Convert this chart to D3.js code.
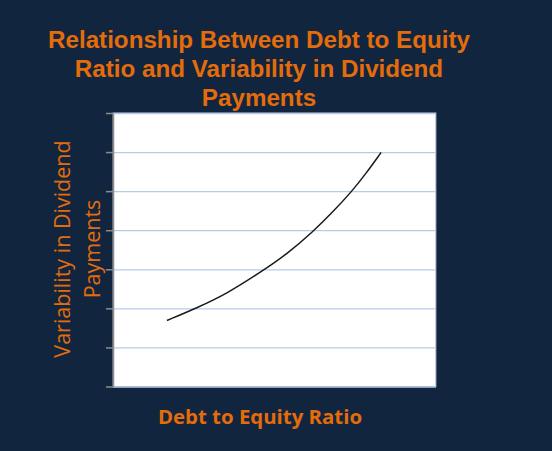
<!DOCTYPE html>
<html>
<head>
<meta charset="utf-8">
<script src="https://cdn.jsdelivr.net/npm/d3@7"></script>
<style>
  html, body { margin: 0; padding: 0; background: #12253f; }
  svg { display: block; }
</style>
</head>
<body>
<div id="chart"></div>
<script>
// values (x: 0..10, y: 0..7 gridline units)
const ratio = [1.67, 2.59, 3.52, 4.65, 5.37, 6.19, 6.81, 7.38, 7.84, 8.30];
const variability = [1.69, 2.01, 2.37, 2.97, 3.38, 3.96, 4.47, 4.98, 5.46, 5.99];
const yTicks = [0, 1, 2, 3, 4, 5, 6, 7];
const titleLines = [
  'Relationship Between Debt to Equity',
  'Ratio and Variability in Dividend',
  'Payments',
];
const yTitleLines = ['Variability in Dividend', 'Payments'];
const xTitle = 'Debt to Equity Ratio';

const width = 552;
const height = 451;
const margin = { top: 113, right: 116, bottom: 64.5, left: 113 };
const orange = '#e46c0a';

const svg = d3
  .select('#chart')
  .append('svg')
  .attr('width', width)
  .attr('height', height);

svg.append('rect').attr('width', width).attr('height', height).attr('fill', '#12253f');

const xScale = d3
  .scaleLinear()
  .domain([0, 10])
  .range([margin.left, width - margin.right]);

const yScale = d3
  .scaleLinear()
  .domain([0, 7])
  .range([height - margin.bottom, margin.top]);

// plot area
svg
  .append('rect')
  .attr('x', xScale(0))
  .attr('y', yScale(7))
  .attr('width', xScale(10) - xScale(0))
  .attr('height', yScale(0) - yScale(7))
  .attr('fill', '#ffffff')
  .attr('stroke', '#8b9bb4')
  .attr('stroke-width', 1);

// gridlines
svg
  .append('g')
  .attr('class', 'gridlines')
  .attr('transform', `translate(${xScale(0)}, 0)`)
  .call(d3.axisLeft(yScale).tickValues(yTicks).tickFormat('').tickSize(-(xScale(10) - xScale(0))))
  .call((g) => g.select('.domain').remove())
  .call((g) => g.selectAll('line').attr('stroke', '#b7cbe8').attr('stroke-width', 1.3));

// y axis with tick marks, no labels
svg
  .append('g')
  .attr('class', 'y-axis')
  .attr('transform', `translate(${xScale(0)}, 0)`)
  .call(d3.axisLeft(yScale).tickValues(yTicks).tickFormat('').tickSize(7).tickSizeOuter(0))
  .call((g) => g.select('.domain').attr('stroke', '#8c8c8c').attr('stroke-width', 1.5))
  .call((g) => g.selectAll('.tick line').attr('stroke', '#8c8c8c').attr('stroke-width', 1.5));

// curve
const line = d3
  .line()
  .x((d, i) => xScale(ratio[i]))
  .y((d) => yScale(d))
  .curve(d3.curveBasis);

svg
  .append('path')
  .datum(variability)
  .attr('d', line)
  .attr('fill', 'none')
  .attr('stroke', '#1a1a1a')
  .attr('stroke-width', 1.5);

// title
svg
  .append('text')
  .attr('text-anchor', 'middle')
  .attr('font-family', '"Liberation Sans", Arial, sans-serif')
  .attr('font-weight', 'bold')
  .attr('font-size', 24.2)
  .attr('fill', orange)
  .selectAll('tspan')
  .data(titleLines)
  .join('tspan')
  .attr('x', 259)
  .attr('y', (d, i) => 48 + i * 28.8)
  .text((d) => d);

// y title
svg
  .append('text')
  .attr('transform', 'translate(0, 249) rotate(-90)')
  .attr('text-anchor', 'middle')
  .attr('font-family', '"Open Sans", sans-serif')
  .attr('font-size', 21.5)
  .attr('fill', orange)
  .selectAll('tspan')
  .data(yTitleLines)
  .join('tspan')
  .attr('x', 0)
  .attr('y', (d, i) => 70 + i * 30)
  .text((d) => d);

// x title
svg
  .append('text')
  .attr('x', 260)
  .attr('y', 424)
  .attr('text-anchor', 'middle')
  .attr('font-family', '"Open Sans", sans-serif')
  .attr('font-weight', 'bold')
  .attr('font-size', 20.4)
  .attr('fill', orange)
  .text(xTitle);
</script>
</body>
</html>
